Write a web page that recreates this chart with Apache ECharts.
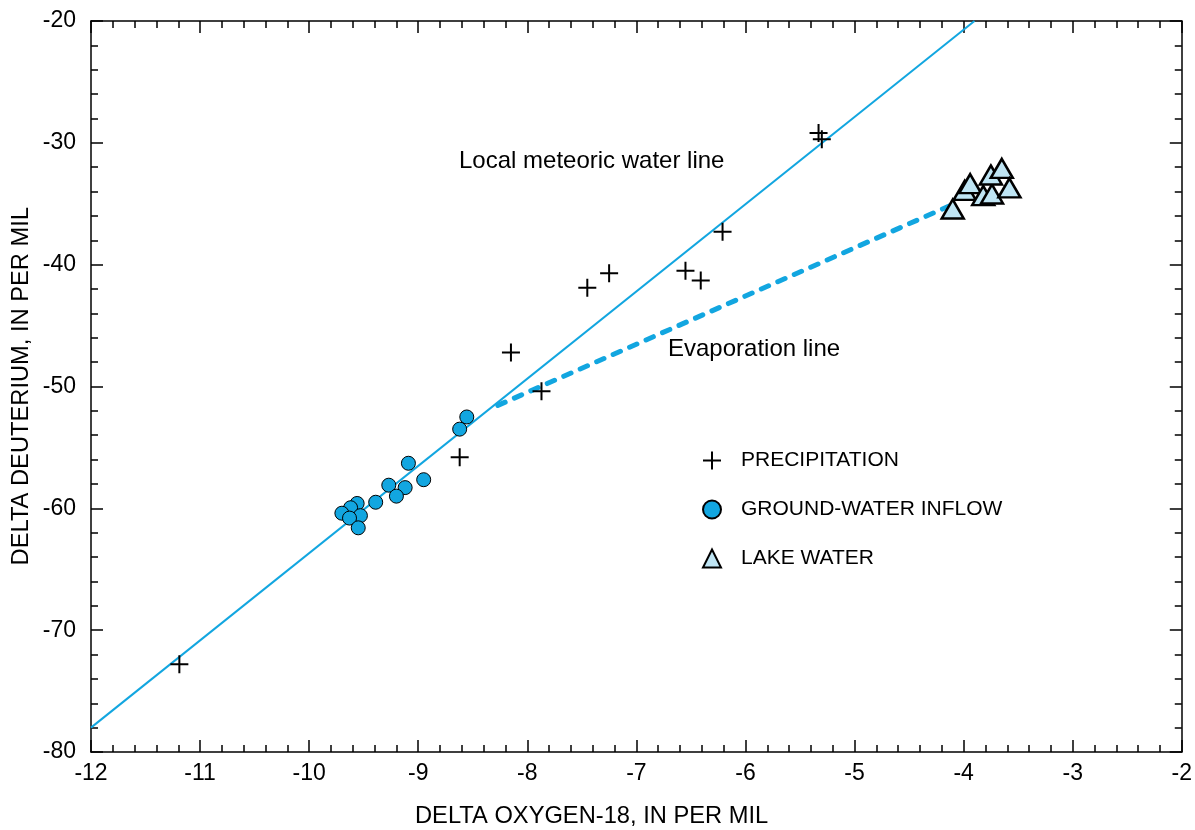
<!DOCTYPE html>
<html><head><meta charset="utf-8">
<script src="https://cdn.jsdelivr.net/npm/echarts@6/dist/echarts.min.js"></script>
<style>html,body{margin:0;padding:0;background:#fff}#c{width:1195px;height:830px}</style>
</head><body><div id="c"></div>
<script>
// Precipitation (delta O-18, delta D)
const precipX = [-11.19, -8.15, -7.87, -8.62, -7.45, -7.25, -6.55, -6.41, -6.21, -5.33, -5.30];
const precipY = [-72.8, -47.2, -50.4, -55.8, -41.9, -40.7, -40.5, -41.3, -37.3, -29.2, -29.7];
// Ground-water inflow
const gwX = [-8.555, -8.62, -9.09, -8.95, -9.27, -9.12, -9.20, -9.39, -9.56, -9.62, -9.70, -9.53, -9.63, -9.55];
const gwY = [-52.5, -53.5, -56.3, -57.65, -58.1, -58.3, -59.0, -59.5, -59.6, -59.95, -60.4, -60.6, -60.8, -61.6];
// Lake water
const lakeX = [-4.10, -3.99, -3.94, -3.82, -3.74, -3.75, -3.65, -3.58];
const lakeY = [-35.43, -33.9, -33.35, -34.33, -34.2, -32.64, -32.1, -33.7];
// Local meteoric water line end points
const lmwlX = [-12, -3.90];
const lmwlY = [-78, -20];
// Evaporation line end points
const evapX = [-8.27, -4.11];
const evapY = [-51.55, -35.1];
// Axis ranges
const xMin = -12, xMax = -2, xStep = 1;
const yMin = -80, yMax = -20, yStep = 10;

const zip = (a, b) => a.map((v, i) => [v, b[i]]);
const FONT = 'Liberation Sans, Arial, sans-serif';
const BLUE = '#12a6e0';
const PLUS = 'path://M8,0 H10 V18 H8 Z M0,8 H18 V10 H0 Z';

function axisCommon(showLabel, isX) {
  return {
    type: 'value', scale: false,
    axisLine: {show: true, onZero: false, lineStyle: {color: '#000', width: 1.5}},
    axisTick: {show: true, inside: true, length: 12, lineStyle: {color: '#000', width: 1.5}},
    minorTick: {show: true, splitNumber: 5, length: 7, lineStyle: {color: '#000', width: 1.5}},
    splitLine: {show: false},
    minorSplitLine: {show: false},
    axisLabel: {show: showLabel, color: '#000', fontFamily: FONT, fontSize: 23,
      margin: isX ? 10 : 15}
  };
}

const chart = echarts.init(document.getElementById('c'));
chart.setOption({
  animation: false,
  backgroundColor: '#fff',
  grid: {left: 91, right: 8, top: 21, bottom: 78, containLabel: false},
  xAxis: [
    Object.assign(axisCommon(true, true), {position: 'bottom', min: xMin, max: xMax, interval: xStep}),
    Object.assign(axisCommon(false, true), {position: 'top', min: xMin, max: xMax, interval: xStep})
  ],
  yAxis: [
    Object.assign(axisCommon(true, false), {position: 'left', min: yMin, max: yMax, interval: yStep}),
    Object.assign(axisCommon(false, false), {position: 'right', min: yMin, max: yMax, interval: yStep})
  ],
  legend: {
    data: ['PRECIPITATION', 'GROUND-WATER INFLOW', 'LAKE WATER'],
    orient: 'vertical', left: 697, top: 445,
    itemWidth: 18, itemHeight: 18, itemGap: 28,
    textStyle: {fontFamily: FONT, fontSize: 21, color: '#000', padding: [0, 0, 0, 15], lineHeight: 20},
    selectedMode: false
  },
  series: [
    {type: 'line', name: 'LMWL', data: zip(lmwlX, lmwlY), symbol: 'none', z: 1,
      lineStyle: {color: BLUE, width: 2}, silent: true},
    {type: 'line', name: 'EVAP', data: zip(evapX, evapY), symbol: 'none', z: 1,
      lineStyle: {color: BLUE, width: 5, type: [8, 10], cap: 'round'}, silent: true},
    {type: 'scatter', name: 'PRECIPITATION', data: zip(precipX, precipY), symbol: PLUS,
      symbolSize: 18, z: 3, itemStyle: {color: '#000', opacity: 1}},
    {type: 'scatter', name: 'GROUND-WATER INFLOW', data: zip(gwX, gwY), symbol: 'circle',
      symbolSize: 14, z: 3, itemStyle: {color: BLUE, borderColor: '#000', borderWidth: 1, opacity: 1}},
    {type: 'scatter', name: 'LAKE WATER', data: zip(lakeX, lakeY), symbol: 'triangle',
      symbolSize: [22, 19], z: 3, itemStyle: {color: '#bfe5f4', borderColor: '#000', borderWidth: 2.5, opacity: 1}}
  ],
  graphic: [
    {type: 'text', left: 459, top: 149, style: {text: 'Local meteoric water line', font: '24px ' + FONT, fill: '#000'}},
    {type: 'text', left: 668, top: 337, style: {text: 'Evaporation line', font: '24px ' + FONT, fill: '#000'}},
    {type: 'text', left: 415, top: 804, style: {text: 'DELTA OXYGEN-18, IN PER MIL', font: '23.7px ' + FONT, fill: '#000'}},
    {type: 'text', left: 9, top: 207, rotation: Math.PI / 2, style: {text: 'DELTA DEUTERIUM, IN PER MIL', font: '23.7px ' + FONT, fill: '#000'}}
  ]
});
</script></body></html>
